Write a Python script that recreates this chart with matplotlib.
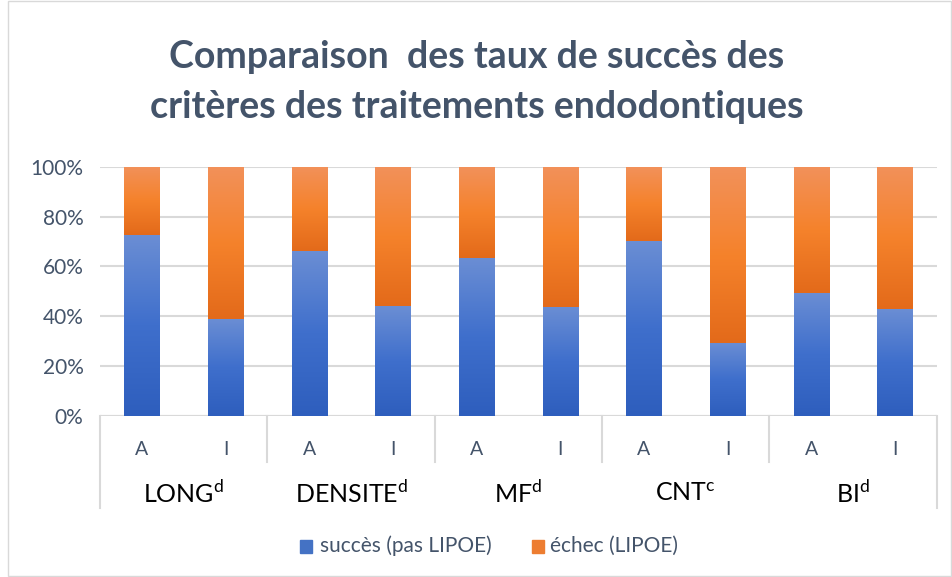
import numpy as np
import matplotlib
matplotlib.use("Agg")
import matplotlib.pyplot as plt
from matplotlib.colors import LinearSegmentedColormap
from matplotlib.patches import Rectangle

plt.rcParams['font.family'] = ['Lato', 'DejaVu Sans']

groups = ["LONG", "DENSITE", "MF", "CNT", "BI"]
group_sup = ["d", "d", "d", "c", "d"]
subcats = ["A", "I"]
success = [72.7, 39.0, 66.3, 44.0, 63.5, 43.8, 70.4, 29.4, 49.5, 43.0]
failure = [100 - s for s in success]
series_names = ["succès (pas LIPOE)", "échec (LIPOE)"]

TXT = "#44546A"
GRID = "#D9D9D9"

blue_cmap = LinearSegmentedColormap.from_list("b", ["#2E5EBD", "#3F6FCC", "#6B8ED4"])
orange_cmap = LinearSegmentedColormap.from_list("o", ["#E36A1A", "#F5822B", "#F2915A"])

fig = plt.figure(figsize=(9.53, 5.77), dpi=100)
ax = fig.add_axes([0.105, 0.279, 0.878, 0.432])

x = np.arange(len(success))
b1 = ax.bar(x, success, width=0.42, color="#4472C4", zorder=2)
b2 = ax.bar(x, failure, width=0.42, bottom=success, color="#ED7D31", zorder=2)

grad = np.linspace(0, 1, 256).reshape(-1, 1)
for bars, cmap in ((b1, blue_cmap), (b2, orange_cmap)):
    for p in bars:
        x0, y0 = p.get_x(), p.get_y()
        ax.imshow(grad, cmap=cmap, origin="lower", aspect="auto",
                  extent=(x0, x0 + p.get_width(), y0, y0 + p.get_height()),
                  zorder=3)

ax.set_xlim(-0.5, len(success) - 0.5)
ax.set_ylim(0, 100)
ax.set_yticks(range(0, 101, 20))
ax.set_yticklabels([f"{v}%" for v in range(0, 101, 20)])
ax.yaxis.grid(True, color=GRID, lw=1.5, zorder=0)
ax.set_axisbelow(True)
for s in ax.spines.values():
    s.set_visible(False)
ax.tick_params(axis="y", length=0, labelsize=15, labelcolor=TXT, pad=12)
ax.tick_params(axis="x", length=0, labelbottom=False)
ax.axhline(0, color=GRID, lw=1.5, zorder=1)

# multi-level category axis
tr = ax.get_xaxis_transform()
for i in range(len(groups) + 1):
    xb = 2 * i - 0.5
    outer = i == 0 or i == len(groups)
    ax.plot([xb, xb], [0, -0.37 if outer else -0.185], transform=tr,
            color=GRID, lw=1.5, clip_on=False)
for i, xi in enumerate(x):
    ax.text(xi, -0.133, subcats[i % 2], transform=tr, ha="center", va="center",
            fontsize=14, color=TXT)
for g, (name, sup) in enumerate(zip(groups, group_sup)):
    ax.text(2 * g + 0.5, -0.31, name + r"$^\mathregular{" + sup + "}$",
            transform=tr, ha="center", va="center", fontsize=18, color="black")

fig.text(0.5, 1 - 82 / 577, "Comparaison  des taux de succès des\ncritères des traitements endodontiques",
         ha="center", va="center", fontsize=27, fontweight="bold", color=TXT,
         linespacing=1.58)

# legend
ly = 1 - 546 / 577
fig.patches.append(Rectangle((300 / 953, ly - 0.012), 12 / 953, 0.022,
                             transform=fig.transFigure, color="#4472C4"))
fig.text(320 / 953, ly, series_names[0], ha="left", va="center", fontsize=15, color=TXT)
fig.patches.append(Rectangle((532 / 953, ly - 0.012), 12 / 953, 0.022,
                             transform=fig.transFigure, color="#ED7D31"))
fig.text(550 / 953, ly, series_names[1], ha="left", va="center", fontsize=15, color=TXT)

fig.patches.append(Rectangle((8 / 953, 0.002), 1 - 10 / 953, 0.996,
                             transform=fig.transFigure, fill=False, ec=GRID, lw=1))

fig.savefig("out.png", dpi=100)
